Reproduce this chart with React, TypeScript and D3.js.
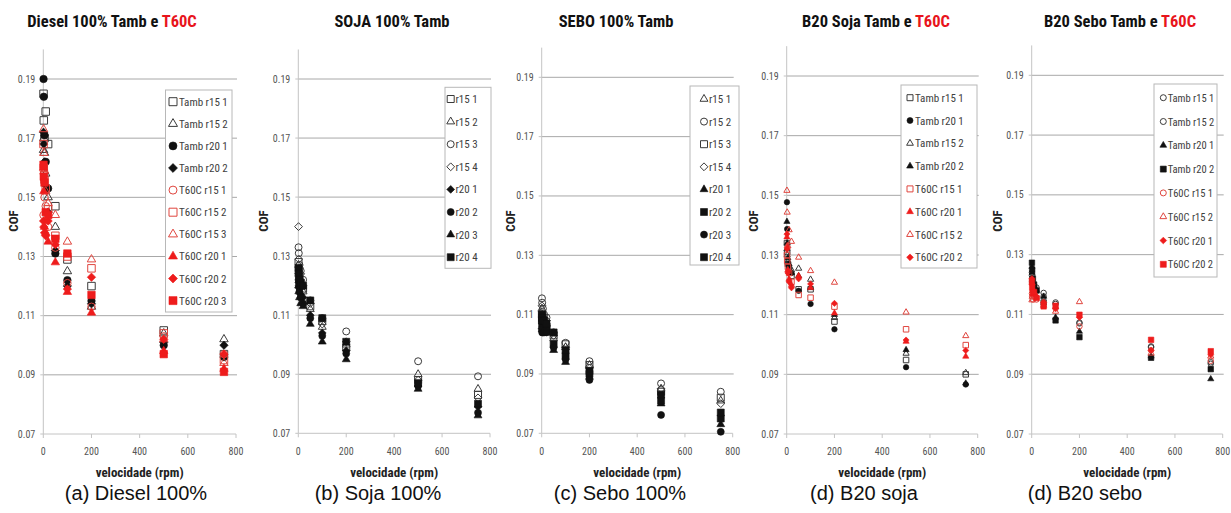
import React from "react";
import * as d3 from "d3";

// Rotation speeds (rpm) at which the friction coefficient was recorded
const SPEEDS = [1, 2, 5, 10, 20, 50, 100, 200, 500, 750];
const Y_TICKS = [0.07, 0.09, 0.11, 0.13, 0.15, 0.17, 0.19];
const X_TICKS = [0, 200, 400, 600, 800];

// (a) Diesel 100%
const dieselLabels = ["Tamb r15 1", "Tamb r15 2", "Tamb r20 1", "Tamb r20 2", "T60C r15 1", "T60C r15 2", "T60C r15 3", "T60C r20 1", "T60C r20 2", "T60C r20 3"];
const dieselCof = [
  [0.185, 0.176, 0.170, 0.179, 0.168, 0.147, 0.129, 0.120, 0.105, 0.097],
  [0.166, 0.170, 0.165, 0.158, 0.150, 0.140, 0.125, 0.113, 0.104, 0.102],
  [0.190, 0.184, 0.171, 0.162, 0.153, 0.131, 0.122, 0.115, 0.100, 0.096],
  [0.172, 0.168, 0.162, 0.154, 0.145, 0.132, 0.120, 0.114, 0.101, 0.100],
  [0.144, 0.158, 0.150, 0.147, 0.140, 0.133, 0.121, 0.113, 0.103, 0.097],
  [0.168, 0.160, 0.156, 0.153, 0.146, 0.137, 0.130, 0.126, 0.104, 0.095],
  [0.173, 0.165, 0.159, 0.152, 0.148, 0.144, 0.135, 0.129, 0.102, 0.094],
  [0.160, 0.152, 0.140, 0.138, 0.135, 0.128, 0.118, 0.111, 0.098, 0.092],
  [0.142, 0.140, 0.138, 0.137, 0.142, 0.134, 0.119, 0.123, 0.102, 0.097],
  [0.161, 0.157, 0.155, 0.145, 0.144, 0.136, 0.131, 0.117, 0.097, 0.091],
];

// (b) Soja 100%
const sojaLabels = ["r15 1", "r15 2", "r15 3", "r15 4", "r20 1", "r20 2", "r20 3", "r20 4"];
const sojaCof = [
  [0.128, 0.125, 0.123, 0.121, 0.119, 0.113, 0.108, 0.099, 0.088, 0.083],
  [0.127, 0.124, 0.122, 0.120, 0.118, 0.112, 0.106, 0.100, 0.090, 0.085],
  [0.133, 0.131, 0.127, 0.125, 0.122, 0.115, 0.109, 0.1045, 0.0944, 0.0893],
  [0.140, 0.129, 0.126, 0.124, 0.120, 0.114, 0.107, 0.101, 0.088, 0.082],
  [0.124, 0.121, 0.119, 0.117, 0.116, 0.110, 0.104, 0.098, 0.086, 0.079],
  [0.122, 0.120, 0.118, 0.116, 0.114, 0.109, 0.103, 0.097, 0.086, 0.077],
  [0.120, 0.118, 0.116, 0.114, 0.113, 0.107, 0.101, 0.095, 0.085, 0.076],
  [0.126, 0.124, 0.122, 0.121, 0.120, 0.115, 0.109, 0.101, 0.087, 0.080],
];

// (c) Sebo 100%
const seboLabels = ["r15 1", "r15 2", "r15 3", "r15 4", "r20 1", "r20 2", "r20 3", "r20 4"];
const seboCof = [
  [0.112, 0.110, 0.109, 0.108, 0.107, 0.102, 0.099, 0.093, 0.085, 0.081],
  [0.1155, 0.114, 0.112, 0.110, 0.109, 0.104, 0.1005, 0.0943, 0.0868, 0.084],
  [0.110, 0.109, 0.108, 0.107, 0.106, 0.103, 0.100, 0.093, 0.084, 0.082],
  [0.113, 0.111, 0.110, 0.109, 0.108, 0.103, 0.099, 0.092, 0.085, 0.080],
  [0.106, 0.105, 0.105, 0.104, 0.104, 0.098, 0.094, 0.089, 0.080, 0.073],
  [0.108, 0.107, 0.106, 0.106, 0.105, 0.100, 0.096, 0.090, 0.081, 0.075],
  [0.105, 0.104, 0.104, 0.104, 0.104, 0.099, 0.095, 0.088, 0.0762, 0.0705],
  [0.110, 0.109, 0.108, 0.108, 0.107, 0.104, 0.098, 0.091, 0.083, 0.077],
];

// (d) B20 soja
const b20SojaLabels = ["Tamb r15 1", "Tamb r20 1", "Tamb r15 2", "Tamb r20 2", "T60C r15 1", "T60C r20 1", "T60C r15 2", "T60C r20 2"];
const b20SojaCof = [
  [0.134, 0.131, 0.127, 0.125, 0.123, 0.1185, 0.1185, 0.1077, 0.0948, 0.090],
  [0.1477, 0.1387, 0.127, 0.126, 0.124, 0.118, 0.1136, 0.1051, 0.0924, 0.0866],
  [0.132, 0.130, 0.128, 0.126, 0.125, 0.1255, 0.1218, 0.109, 0.097, 0.0905],
  [0.1412, 0.134, 0.129, 0.127, 0.124, 0.123, 0.119, 0.110, 0.0982, 0.087],
  [0.130, 0.128, 0.126, 0.124, 0.121, 0.1166, 0.1157, 0.1127, 0.1051, 0.0998],
  [0.136, 0.133, 0.125, 0.122, 0.120, 0.123, 0.119, 0.1105, 0.101, 0.096],
  [0.1516, 0.1443, 0.133, 0.1384, 0.1345, 0.1292, 0.1247, 0.1208, 0.1108, 0.1029],
  [0.137, 0.132, 0.124, 0.121, 0.119, 0.122, 0.1203, 0.1138, 0.1015, 0.098],
];

// (e) B20 sebo
const b20SeboLabels = ["Tamb r15 1", "Tamb r15 2", "Tamb r20 1", "Tamb r20 2", "T60C r15 1", "T60C r15 2", "T60C r20 1", "T60C r20 2"];
const b20SeboCof = [
  [0.123, 0.121, 0.120, 0.1193, 0.118, 0.1172, 0.114, 0.1073, 0.0993, 0.0935],
  [0.124, 0.122, 0.120, 0.119, 0.119, 0.116, 0.1135, 0.107, 0.099, 0.094],
  [0.126, 0.124, 0.121, 0.119, 0.118, 0.116, 0.109, 0.1043, 0.096, 0.0884],
  [0.1273, 0.125, 0.122, 0.120, 0.118, 0.114, 0.108, 0.1024, 0.0955, 0.0917],
  [0.117, 0.116, 0.115, 0.116, 0.115, 0.114, 0.112, 0.106, 0.098, 0.0945],
  [0.1148, 0.116, 0.118, 0.117, 0.116, 0.113, 0.111, 0.1142, 0.097, 0.096],
  [0.122, 0.120, 0.118, 0.117, 0.116, 0.114, 0.112, 0.109, 0.098, 0.0965],
  [0.121, 0.119, 0.117, 0.1175, 0.1155, 0.1127, 0.1129, 0.1099, 0.1015, 0.0977],
];

// ---- styling -------------------------------------------------------------
type Shape = "square" | "circle" | "triangle" | "diamond";
type Style = { shape: Shape; color: string; filled: boolean };

const BLACK = "#111111";
const GREY = "#3a3a3a";
const RED = "#ee1c1c";
const PINK = "#e0463f";

const st = (shape: Shape, color: string, filled: boolean): Style => ({ shape, color, filled });

const dieselStyles: Style[] = [
  st("square", GREY, false), st("triangle", GREY, false), st("circle", BLACK, true), st("diamond", BLACK, true),
  st("circle", PINK, false), st("square", PINK, false), st("triangle", PINK, false),
  st("triangle", RED, true), st("diamond", RED, true), st("square", RED, true),
];
const sojaStyles: Style[] = [
  st("square", GREY, false), st("triangle", GREY, false), st("circle", GREY, false), st("diamond", GREY, false),
  st("diamond", BLACK, true), st("circle", BLACK, true), st("triangle", BLACK, true), st("square", BLACK, true),
];
const seboStyles: Style[] = [
  st("triangle", GREY, false), st("circle", GREY, false), st("square", GREY, false), st("diamond", GREY, false),
  st("triangle", BLACK, true), st("square", BLACK, true), st("circle", BLACK, true), st("square", BLACK, true),
];
const b20SojaStyles: Style[] = [
  st("square", GREY, false), st("circle", BLACK, true), st("triangle", GREY, false), st("triangle", BLACK, true),
  st("square", PINK, false), st("triangle", RED, true), st("triangle", PINK, false), st("diamond", RED, true),
];
const b20SeboStyles: Style[] = [
  st("circle", GREY, false), st("circle", GREY, false), st("triangle", BLACK, true), st("square", BLACK, true),
  st("circle", PINK, false), st("triangle", PINK, false), st("diamond", RED, true), st("square", RED, true),
];

// Excel-like diamond: a square turned 45 degrees
const symbolRhombus: d3.SymbolType = {
  draw(ctx, size) {
    const r = (Math.sqrt(size) / 2) * 1.25;
    ctx.moveTo(0, -r);
    ctx.lineTo(r, 0);
    ctx.lineTo(0, r);
    ctx.lineTo(-r, 0);
    ctx.closePath();
  },
};

function markerPath(shape: Shape, s: number): string {
  const gen = d3.symbol();
  if (shape === "square") return gen.type(d3.symbolSquare).size(s * s)() as string;
  if (shape === "circle") return gen.type(d3.symbolCircle).size((Math.PI * s * s) / 4)() as string;
  if (shape === "triangle") return gen.type(d3.symbolTriangle).size(s * s * 0.55)() as string;
  return gen.type(symbolRhombus).size(s * s * 0.8)() as string;
}

const NARROW = "'Liberation Sans Narrow', 'Arial Narrow', 'Roboto Condensed', 'DejaVu Sans Condensed', sans-serif";
const ARIAL = "'Liberation Sans', Arial, sans-serif";

type Layout = {
  x0: number; x800: number; y07: number; y19: number;
  titleX: number; cofX: number; captionX: number;
  legend: { x: number; y: number; w: number; h: number; row0: number; step: number; mx: number; tx: number; font: number; marker: number };
  marker: number;
};

type PanelProps = {
  layout: Layout;
  title: string;
  titleRed?: string;
  caption: string;
  labels: string[];
  cof: number[][];
  styles: Style[];
};

function Marker({ x, y, style, size }: { x: number; y: number; style: Style; size: number }) {
  return (
    <path
      d={markerPath(style.shape, size)}
      transform={`translate(${x},${y})`}
      fill={style.filled ? style.color : "white"}
      fillOpacity={style.filled ? 1 : 0}
      stroke={style.color}
      strokeWidth={style.filled ? 0.6 : 1}
    />
  );
}

function Panel({ layout: L, title, titleRed, caption, labels, cof, styles }: PanelProps) {
  const x = d3.scaleLinear().domain([0, 800]).range([L.x0, L.x800]);
  const y = d3.scaleLinear().domain([0.07, 0.19]).range([L.y07, L.y19]);
  const yTop = y(0.2);
  const lg = L.legend;
  return (
    <g>
      <text x={L.titleX} y={27} textAnchor="middle" fontFamily={NARROW} fontWeight="bold" fontSize={16.5} fill="#111">
        <tspan>{title}</tspan>
        {titleRed ? <tspan fill="#e8141c">{titleRed}</tspan> : null}
      </text>

      {/* gridlines */}
      {Y_TICKS.slice(1).map((t) => (
        <line key={t} x1={L.x0} x2={x(800) + 1} y1={y(t)} y2={y(t)} stroke="#a8a8a8" strokeWidth={1} />
      ))}
      {/* axes */}
      <line x1={L.x0} x2={L.x0} y1={yTop} y2={L.y07} stroke="#c4c4c4" strokeWidth={1} />
      <line x1={L.x0} x2={x(800)} y1={L.y07} y2={L.y07} stroke="#c4c4c4" strokeWidth={1} />
      {Y_TICKS.map((t) => (
        <g key={t}>
          <line x1={L.x0 - 3} x2={L.x0} y1={y(t)} y2={y(t)} stroke="#c4c4c4" />
          <text x={L.x0 - 8} y={y(t) + 3.5} textAnchor="end" fontFamily={NARROW} fontSize={10} fill="#555">
            {t.toFixed(2)}
          </text>
        </g>
      ))}
      {X_TICKS.map((t) => (
        <g key={t}>
          <line x1={x(t)} x2={x(t)} y1={L.y07} y2={L.y07 + 4} stroke="#c4c4c4" />
          <text x={x(t)} y={455} textAnchor="middle" fontFamily={NARROW} fontSize={10} fill="#555">
            {t}
          </text>
        </g>
      ))}
      <text x={(L.x0 + L.x800) / 2} y={477} textAnchor="middle" fontFamily={NARROW} fontWeight="bold" fontSize={13} fill="#222">
        velocidade (rpm)
      </text>
      <text
        transform={`translate(${L.cofX},${221}) rotate(-90)`}
        textAnchor="middle"
        fontFamily={NARROW}
        fontWeight="bold"
        fontSize={13}
        fill="#222"
      >
        COF
      </text>

      {/* data */}
      {cof.map((row, i) =>
        row.map((v, j) => <Marker key={`${i}-${j}`} x={x(SPEEDS[j])} y={y(v)} style={styles[i]} size={L.marker} />)
      )}

      {/* legend */}
      <rect x={lg.x} y={lg.y} width={lg.w} height={lg.h} fill="white" stroke="#b8b8b8" strokeWidth={1} />
      {labels.map((name, i) => (
        <g key={name + i}>
          <Marker x={lg.mx} y={lg.row0 + i * lg.step} style={styles[i]} size={lg.marker} />
          <text x={lg.tx} y={lg.row0 + i * lg.step + 4} fontFamily={NARROW} fontSize={lg.font} fill="#404040">
            {name}
          </text>
        </g>
      ))}

      <text x={L.captionX} y={500} textAnchor="middle" fontFamily={ARIAL} fontSize={20} fill="#111">
        {caption}
      </text>
    </g>
  );
}

const layouts: Layout[] = [
  { x0: 43.3, x800: 236, y07: 434, y19: 79, titleX: 112, cofX: 18, captionX: 136,
    legend: { x: 165.5, y: 90, w: 66.5, h: 222, row0: 101.7, step: 22.1, mx: 173, tx: 179, font: 11, marker: 8 }, marker: 7.5 },
  { x0: 298.3, x800: 490, y07: 433.3, y19: 79, titleX: 392, cofX: 268, captionX: 378,
    legend: { x: 445, y: 87.3, w: 46, h: 181, row0: 99, step: 22.6, mx: 450.7, tx: 455.5, font: 11, marker: 7 }, marker: 7 },
  { x0: 541.7, x800: 732.7, y07: 433.3, y19: 77.3, titleX: 616, cofX: 515, captionX: 620,
    legend: { x: 690, y: 86, w: 49, h: 179, row0: 99, step: 22.6, mx: 704, tx: 709, font: 11, marker: 7 }, marker: 7 },
  { x0: 786.7, x800: 977.7, y07: 434, y19: 76, titleX: 876, cofX: 758, captionX: 864,
    legend: { x: 901, y: 85, w: 76, h: 183, row0: 97.7, step: 22.8, mx: 910, tx: 915, font: 11, marker: 6 }, marker: 5.5 },
  { x0: 1031.7, x800: 1222.7, y07: 434, y19: 75.3, titleX: 1120, cofX: 1002, captionX: 1085,
    legend: { x: 1154, y: 84, w: 63, h: 193, row0: 97.7, step: 23.8, mx: 1163.3, tx: 1167.7, font: 10.5, marker: 6 }, marker: 5.5 },
];

export default function App() {
  return (
    <svg
      width={1231}
      height={513}
      viewBox="0 0 1231 513"
      style={{ position: "absolute", left: 0, top: 0, background: "white", display: "block" }}
    >
      <rect width={1231} height={513} fill="white" />
      <Panel layout={layouts[0]} title="Diesel 100% Tamb e " titleRed="T60C" caption="(a) Diesel 100%" labels={dieselLabels} cof={dieselCof} styles={dieselStyles} />
      <Panel layout={layouts[1]} title="SOJA 100% Tamb" caption="(b) Soja 100%" labels={sojaLabels} cof={sojaCof} styles={sojaStyles} />
      <Panel layout={layouts[2]} title="SEBO 100% Tamb" caption="(c) Sebo 100%" labels={seboLabels} cof={seboCof} styles={seboStyles} />
      <Panel layout={layouts[3]} title="B20 Soja Tamb e " titleRed="T60C" caption="(d) B20 soja" labels={b20SojaLabels} cof={b20SojaCof} styles={b20SojaStyles} />
      <Panel layout={layouts[4]} title="B20 Sebo Tamb e " titleRed="T60C" caption="(d) B20 sebo" labels={b20SeboLabels} cof={b20SeboCof} styles={b20SeboStyles} />
    </svg>
  );
}
